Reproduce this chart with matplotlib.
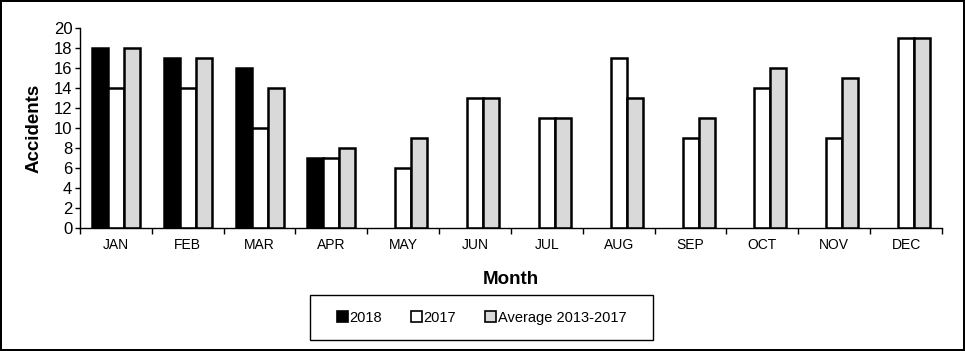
import matplotlib.pyplot as plt
from matplotlib.patches import Rectangle
import numpy as np

plt.rcParams['font.family'] = ['Liberation Sans', 'DejaVu Sans']

mesi = ['JAN', 'FEB', 'MAR', 'APR', 'MAY', 'JUN', 'JUL', 'AUG', 'SEP', 'OCT', 'NOV', 'DEC']
incidenti_2018 = [18, 17, 16, 7, np.nan, np.nan, np.nan, np.nan, np.nan, np.nan, np.nan, np.nan]
incidenti_2017 = [14, 14, 10, 7, 6, 13, 11, 17, 9, 14, 9, 19]
media_2013_2017 = [18, 17, 14, 8, 9, 13, 11, 13, 11, 16, 15, 19]

fig = plt.figure(figsize=(9.65, 3.51), dpi=100, linewidth=1.5, edgecolor='black')
ax = fig.add_axes([0.0829, 0.3504, 0.8932, 0.5698])

x = np.arange(len(mesi))
w = 0.223
bordo = dict(edgecolor='black', linewidth=1.8)
ax.bar(x - w, incidenti_2018, w, color='black', label='2018', **bordo)
ax.bar(x, incidenti_2017, w, color='white', label='2017', **bordo)
ax.bar(x + w, media_2013_2017, w, color='#d9d9d9', label='Average 2013-2017', **bordo)

ax.set_xlim(-0.5, 11.5)
ax.set_ylim(0, 20)
ax.set_yticks(range(0, 21, 2))
ax.tick_params(axis='y', labelsize=12, length=3.5, width=1, pad=2)

# tacche ai confini delle categorie, etichette al centro
ax.set_xticks(np.arange(-0.5, 12, 1))
ax.set_xticklabels([])
ax.tick_params(axis='x', which='major', length=4, width=1)
ax.set_xticks(x, minor=True)
ax.set_xticklabels(mesi, minor=True)
ax.tick_params(axis='x', which='minor', length=0, labelsize=10, pad=7)

for lato in ['top', 'right']:
    ax.spines[lato].set_visible(False)
for lato in ['left', 'bottom']:
    ax.spines[lato].set_linewidth(1)

ax.set_ylabel('Accidents', fontsize=13.5, fontweight='bold', labelpad=8)
ax.set_xlabel('Month', fontsize=13.5, fontweight='bold', labelpad=14)

leg = fig.legend(loc='center', bbox_to_anchor=(0.499, 0.0954), ncol=3, frameon=False,
                 fontsize=10.5, handlelength=0.75, handleheight=0.75, handletextpad=0.1,
                 columnspacing=2.0, borderpad=1.05, borderaxespad=0)
for h in leg.legend_handles:
    h.set_linewidth(1.2)

# riquadro della legenda
fig.add_artist(Rectangle((310 / 965, 11 / 351), 343 / 965, 45 / 351, fill=False,
                         edgecolor='black', linewidth=1, transform=fig.transFigure))

fig.savefig('out.png', dpi=100)
